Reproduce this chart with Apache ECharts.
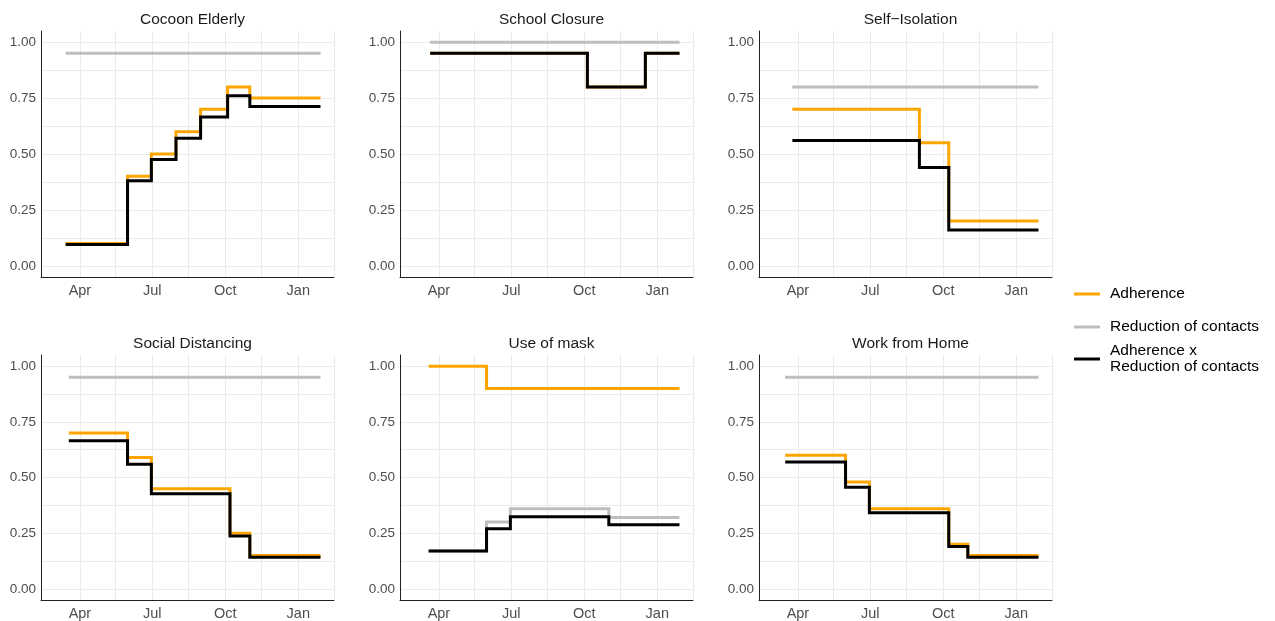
<!DOCTYPE html>
<html>
<head>
<meta charset="utf-8">
<script src="https://cdn.jsdelivr.net/npm/echarts@6/dist/echarts.min.js"></script>
<style>
  html, body { margin: 0; padding: 0; background: #fff; }
  #chart { width: 1275px; height: 621px; }
</style>
</head>
<body>
<div id="chart"></div>
<script>
// facet titles
const titles = ['Cocoon Elderly', 'School Closure', 'Self\u2212Isolation', 'Social Distancing', 'Use of mask', 'Work from Home'];
const seriesNames = ['Adherence', 'Reduction of contacts', 'Adherence x Reduction of contacts'];

// x axis ticks
const xMin = '2020-02-12';
const xMax = '2021-02-15';
const monthTicks = ['2020-04-01', '2020-07-01', '2020-10-01', '2021-01-01'];
const monthLabels = ['Apr', 'Jul', 'Oct', 'Jan'];
const minorMonthTicks = ['2020-05-16', '2020-08-16', '2020-11-16', '2021-02-15'];
// y axis ticks
const yTicks = [0, 0.25, 0.5, 0.75, 1];
const yMinorTicks = [0.125, 0.375, 0.625, 0.875];

// Cocoon Elderly
const cocoonDates = ['2020-03-14', '2020-05-31', '2020-06-30', '2020-07-31', '2020-08-31', '2020-10-04', '2020-11-01', '2021-01-29'];
const cocoonAdherence = [0.10, 0.40, 0.50, 0.60, 0.70, 0.80, 0.75, 0.75];
const cocoonReduction = [0.95, 0.95, 0.95, 0.95, 0.95, 0.95, 0.95, 0.95];
const cocoonProduct = [0.095, 0.38, 0.475, 0.57, 0.665, 0.76, 0.7125, 0.7125];

// School Closure
const schoolDates = ['2020-03-21', '2020-10-05', '2020-12-17', '2021-01-29'];
const schoolAdherence = [0.95, 0.80, 0.95, 0.95];
const schoolReduction = [1.00, 1.00, 1.00, 1.00];
const schoolProduct = [0.95, 0.80, 0.95, 0.95];

// Self-Isolation
const isolationDates = ['2020-03-25', '2020-09-01', '2020-10-08', '2021-01-29'];
const isolationAdherence = [0.70, 0.55, 0.20, 0.20];
const isolationReduction = [0.80, 0.80, 0.80, 0.80];
const isolationProduct = [0.56, 0.44, 0.16, 0.16];

// Social Distancing
const distancingDates = ['2020-03-18', '2020-05-31', '2020-06-30', '2020-10-07', '2020-11-01', '2021-01-29'];
const distancingAdherence = [0.70, 0.59, 0.45, 0.25, 0.15, 0.15];
const distancingReduction = [0.95, 0.95, 0.95, 0.95, 0.95, 0.95];
const distancingProduct = [0.665, 0.56, 0.4275, 0.2375, 0.1425, 0.1425];

// Use of mask
const maskDates = ['2020-03-19', '2020-05-31', '2020-06-30', '2020-11-01', '2021-01-29'];
const maskAdherence = [1.00, 0.90, 0.90, 0.90, 0.90];
const maskReduction = [0.17, 0.30, 0.36, 0.32, 0.32];
const maskProduct = [0.17, 0.27, 0.324, 0.288, 0.288];

// Work from Home
const wfhDates = ['2020-03-16', '2020-05-31', '2020-06-30', '2020-10-08', '2020-11-01', '2021-01-29'];
const wfhAdherence = [0.60, 0.48, 0.36, 0.20, 0.15, 0.15];
const wfhReduction = [0.95, 0.95, 0.95, 0.95, 0.95, 0.95];
const wfhProduct = [0.57, 0.456, 0.342, 0.19, 0.1425, 0.1425];

const panels = [
  [cocoonDates, cocoonAdherence, cocoonReduction, cocoonProduct],
  [schoolDates, schoolAdherence, schoolReduction, schoolProduct],
  [isolationDates, isolationAdherence, isolationReduction, isolationProduct],
  [distancingDates, distancingAdherence, distancingReduction, distancingProduct],
  [maskDates, maskAdherence, maskReduction, maskProduct],
  [wfhDates, wfhAdherence, wfhReduction, wfhProduct]
];

// date string -> timestamp (local time)
function d(s) {
  const p = s.split('-');
  return new Date(+p[0], +p[1] - 1, +p[2]).getTime();
}
const monthTickTimes = monthTicks.map(d);

const colors = ['#FFA500', '#BEBEBE', '#000000'];
const lefts = [41, 400, 759];
const tops = [31, 355];
const font = 'Liberation Sans, Arial, sans-serif';

let grid = [], xAxis = [], yAxis = [], series = [], title = [];
for (let i = 0; i < 6; i++) {
  const left = lefts[i % 3], top = tops[Math.floor(i / 3)];
  grid.push({ left: left, top: top, width: 293, height: 246 });
  title.push({
    text: titles[i], left: left + 146.5, top: top - 24, textAlign: 'center',
    textStyle: { fontFamily: font, fontSize: 15.5, fontWeight: 'normal', color: '#1A1A1A' }
  });
  // time as plain numbers so custom tick positions work
  xAxis.push({
    type: 'value', gridIndex: i, min: d(xMin), max: d(xMax),
    axisLine: { onZero: false, lineStyle: { color: '#222', width: 1 } },
    axisTick: { show: false, customValues: monthTickTimes.concat(minorMonthTicks.map(d)) },
    axisLabel: {
      customValues: monthTickTimes, margin: 6, showMinLabel: true, showMaxLabel: true,
      fontFamily: font, fontSize: 14.5, color: '#4D4D4D',
      formatter: function (v) {
        const idx = monthTickTimes.indexOf(v);
        return idx >= 0 ? monthLabels[idx] : '';
      }
    },
    splitLine: { show: true, lineStyle: { color: '#EBEBEB', width: 1 } }
  });
  yAxis.push({
    type: 'value', gridIndex: i, min: -0.05, max: 1.05,
    axisLine: { show: true, lineStyle: { color: '#222', width: 1 } },
    axisTick: { show: false, customValues: yTicks.concat(yMinorTicks) },
    axisLabel: {
      customValues: yTicks, margin: 5,
      fontFamily: font, fontSize: 13.5, color: '#4D4D4D',
      formatter: function (v) { return v.toFixed(2); }
    },
    splitLine: { show: true, lineStyle: { color: '#EBEBEB', width: 1 } }
  });
  const p = panels[i];
  for (let k = 0; k < 3; k++) {
    series.push({
      name: seriesNames[k], type: 'line', step: 'end',
      xAxisIndex: i, yAxisIndex: i,
      data: p[0].map((s, j) => [d(s), p[k + 1][j]]),
      showSymbol: false, symbol: 'none',
      color: colors[k],
      lineStyle: { color: colors[k], width: 3, join: 'miter' },
      emphasis: { disabled: true },
      z: 2 + k
    });
  }
}

const legendText = { fontFamily: font, fontSize: 15.5, color: '#000', lineHeight: 16, padding: [0, 0, 0, 5] };
const legendCenters = [294, 327, 359];
const legend = seriesNames.map((n, k) => ({
  data: [n], orient: 'vertical', left: 1074, top: legendCenters[k] - (k === 2 ? 16 : 8),
  padding: 0, itemWidth: 26, itemHeight: 3, icon: 'rect',
  textStyle: legendText,
  formatter: k === 2 ? 'Adherence x\nReduction of contacts' : n
}));

const chart = echarts.init(document.getElementById('chart'));
chart.setOption({
  animation: false,
  backgroundColor: '#fff',
  title: title,
  grid: grid,
  xAxis: xAxis,
  yAxis: yAxis,
  legend: legend,
  series: series
});
</script>
</body>
</html>
